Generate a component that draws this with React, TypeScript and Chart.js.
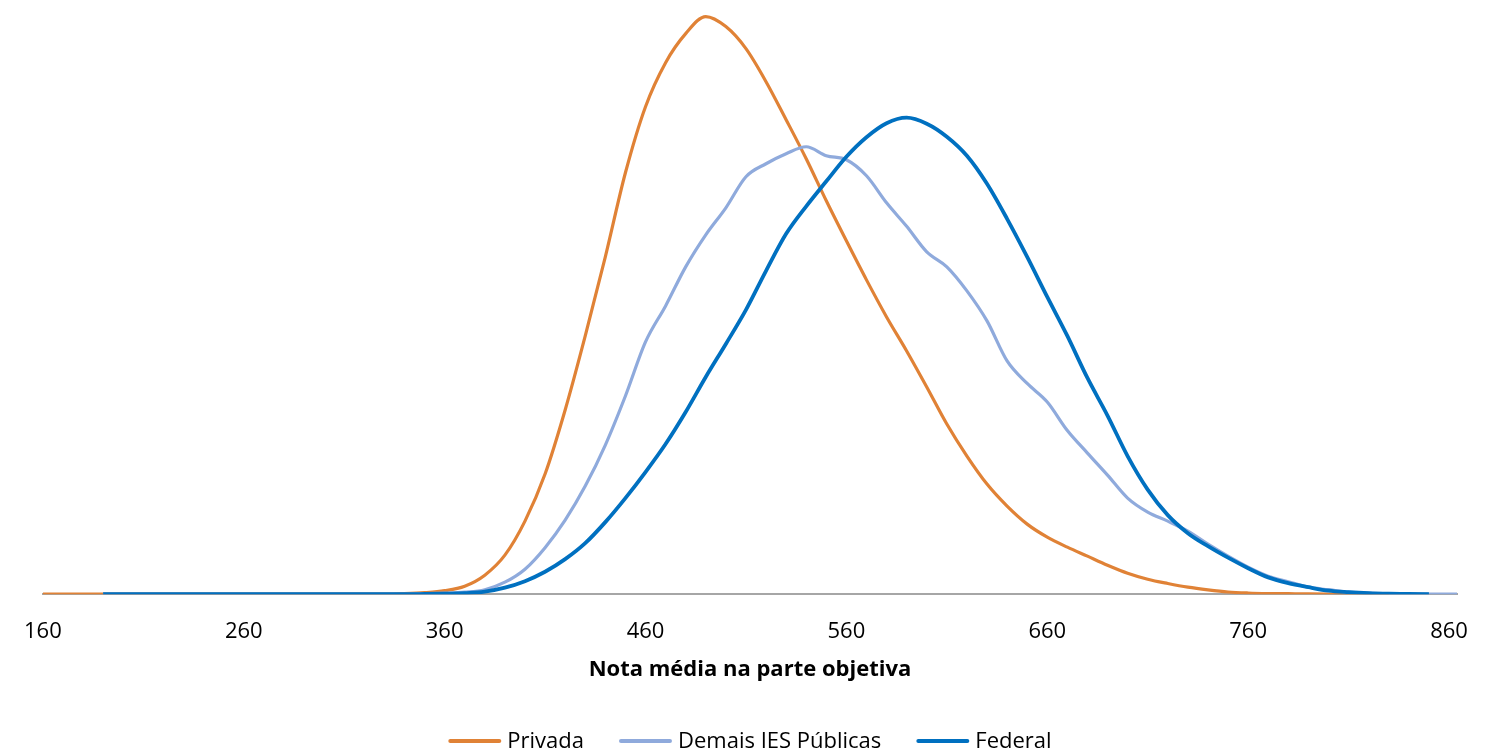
import React, { useEffect, useRef } from "react";
import { Chart, registerables } from "chart.js";

Chart.register(...registerables);

// Score grid (x values)
const scores = [
  160, 170, 180, 190, 200, 210, 220, 230, 240, 250, 260, 270, 280, 290, 300, 310, 320, 330,
  340, 350, 360, 370, 380, 390, 400, 410, 420, 430, 440, 450, 460, 470, 480, 490, 500, 510,
  520, 530, 540, 550, 560, 570, 580, 590, 600, 610, 620, 630, 640, 650, 660, 670, 680, 690,
  700, 710, 720, 730, 740, 750, 760, 770, 780, 790, 800, 810, 820, 830, 840, 850, 860, 864,
];

// Privada (distribution, % per score step)
const privada: (number | null)[] = [
  0, 0, 0, 0, 0, 0, 0, 0, 0, 0, 0, 0, 0, 0, 0, 0, 0, 0,
  0.005, 0.015, 0.035, 0.08, 0.19, 0.39, 0.73, 1.2, 1.84, 2.58, 3.37, 4.21, 4.87, 5.31, 5.6, 5.77,
  5.67, 5.45, 5.12, 4.74, 4.35, 3.93, 3.53, 3.14, 2.77, 2.43, 2.07, 1.7, 1.38, 1.1, 0.88, 0.7,
  0.57, 0.47, 0.38, 0.29, 0.21, 0.15, 0.107, 0.07, 0.043, 0.022, 0.012, 0.007, 0.005, 0.003,
  0.002, 0.001, 0.0005, 0,
  null, null, null, null,
];

// Demais IES Públicas
const demais: (number | null)[] = [
  null, null, null,
  0, 0, 0, 0, 0, 0, 0, 0, 0, 0, 0, 0, 0, 0, 0,
  0.002, 0.005, 0.01, 0.02, 0.045, 0.12, 0.25, 0.465, 0.74, 1.08, 1.49, 1.98, 2.52, 2.88, 3.27,
  3.59, 3.86, 4.17, 4.3, 4.4, 4.47, 4.38, 4.34, 4.18, 3.91, 3.675, 3.42, 3.27, 3.03, 2.73, 2.33,
  2.105, 1.92, 1.635, 1.41, 1.19, 0.96, 0.82, 0.73, 0.63, 0.5, 0.38, 0.27, 0.18, 0.125, 0.07,
  0.045, 0.02, 0.01, 0.005, 0.003, 0.002, 0.001,
  0,
];

// Federal
const federal: (number | null)[] = [
  null, null, null,
  0, 0, 0, 0, 0, 0, 0, 0, 0, 0, 0, 0, 0, 0, 0, 0,
  0.002, 0.005, 0.01, 0.025, 0.065, 0.13, 0.224, 0.35, 0.51, 0.72, 0.96, 1.22, 1.5, 1.82,
  2.17, 2.5, 2.84, 3.23, 3.6, 3.875, 4.125, 4.37, 4.565, 4.705, 4.76, 4.7, 4.57, 4.38, 4.1,
  3.75, 3.37, 2.97, 2.58, 2.16, 1.785, 1.38, 1.045, 0.79, 0.61, 0.48, 0.365, 0.26, 0.168, 0.11,
  0.07, 0.035, 0.02, 0.01, 0.005, 0.003,
  0,
  null, null,
];

const seriesLabels = ["Privada", "Demais IES Públicas", "Federal"];
const seriesColors = ["#E08236", "#8FAADC", "#0070C0"];
const xTicks = [160, 260, 360, 460, 560, 660, 760, 860];
const xAxisTitle = "Nota média na parte objetiva";

const FONT = '"Open Sans", "Noto Sans", sans-serif';

const customLegend = {
  id: "customLegend",
  afterDraw(chart: any) {
    const ctx = chart.ctx as CanvasRenderingContext2D;
    const area = chart.chartArea;
    const lineLen = 53;
    const gapText = 6;
    const gapItem = 35;
    const y = 741;
    ctx.save();
    ctx.font = `22px ${FONT}`;
    const items = chart.data.datasets.map((ds: any) => ({
      label: ds.label as string,
      color: ds.borderColor as string,
      w: ctx.measureText(ds.label).width,
    }));
    let total = 0;
    items.forEach((it: any, i: number) => {
      total += lineLen + gapText + it.w + (i < items.length - 1 ? gapItem : 0);
    });
    let x = (area.left + area.right) / 2 - total / 2;
    items.forEach((it: any) => {
      ctx.beginPath();
      ctx.strokeStyle = it.color;
      ctx.lineWidth = 4;
      ctx.lineCap = "round";
      ctx.moveTo(x + 2, y);
      ctx.lineTo(x + lineLen - 2, y);
      ctx.stroke();
      ctx.fillStyle = "#000";
      ctx.textBaseline = "middle";
      ctx.textAlign = "left";
      ctx.fillText(it.label, x + lineLen + gapText, y + 1);
      x += lineLen + gapText + it.w + gapItem;
    });
    ctx.restore();
  },
};

export default function App() {
  const ref = useRef<HTMLCanvasElement | null>(null);

  useEffect(() => {
    if (!ref.current) return;
    const mk = (arr: (number | null)[]) => scores.map((x, i) => ({ x, y: arr[i] }));
    const seriesData = [privada, demais, federal];
    const chart = new Chart(ref.current, {
      type: "line",
      data: {
        datasets: seriesLabels.map((label, i) => ({
          label,
          data: mk(seriesData[i]) as any,
          borderColor: seriesColors[i],
          backgroundColor: seriesColors[i],
          borderWidth: i === 2 ? 3.8 : 3.2,
          pointRadius: 0,
          pointHoverRadius: 0,
          cubicInterpolationMode: "monotone" as const,
          spanGaps: false,
          order: 3 - i,
        })),
      },
      options: {
        animation: false,
        responsive: true,
        maintainAspectRatio: false,
        layout: { padding: { left: 39.5, right: 24.8, top: 13.6, bottom: 72 } },
        plugins: {
          legend: { display: false },
          tooltip: { enabled: false },
          title: { display: false },
        },
        scales: {
          x: {
            type: "linear",
            min: 160,
            max: 864,
            grid: { display: false, drawTicks: false },
            border: { display: true, color: "#A6A6A6", width: 2 },
            afterBuildTicks: (scale: any) => {
              scale.ticks = xTicks.map((v) => ({ value: v }));
            },
            ticks: {
              autoSkip: false,
              maxRotation: 0,
              padding: 24,
              color: "#000",
              font: { family: FONT, size: 22 },
              callback: (v: any) => String(v),
            },
            title: {
              display: true,
              text: xAxisTitle,
              color: "#000",
              font: { family: FONT, size: 22, weight: "bold" },
              padding: { top: -12, bottom: 0 },
            },
          },
          y: {
            display: false,
            min: 0,
            max: 5.8,
          },
        },
      },
      plugins: [customLegend],
    });
    return () => chart.destroy();
  }, []);

  return (
    <div
      style={{
        position: "fixed",
        left: 0,
        top: 0,
        width: 1492,
        height: 755,
        background: "#fff",
      }}
    >
      <canvas ref={ref} />
    </div>
  );
}
